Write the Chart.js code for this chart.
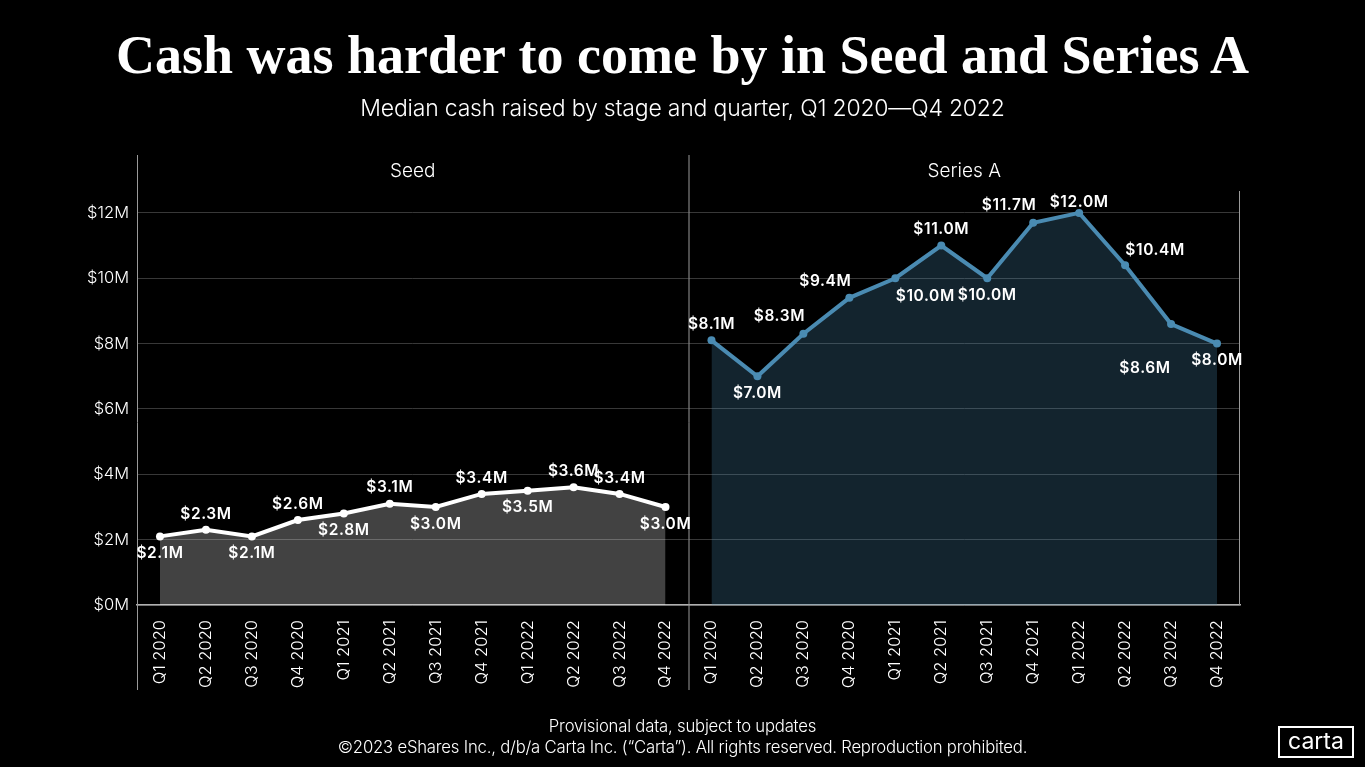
<!DOCTYPE html>
<html>
<head>
<meta charset="utf-8">
<script src="https://cdn.jsdelivr.net/npm/chart.js"></script>
<style>
  html, body { margin: 0; padding: 0; background: #000; }
  body { width: 1365px; height: 767px; position: relative; overflow: hidden; font-family: "Inter", "Lato", sans-serif; color: #fff; }
  #wrap { position: absolute; left: 0; top: 0; width: 1365px; height: 767px; }
  .title { position: absolute; top: 24px; left: 0; width: 1365px; text-align: center; font-family: "Liberation Serif", "DejaVu Serif", serif; font-weight: bold; font-size: 54px; }
  .sub { position: absolute; top: 94px; left: 0; width: 1365px; text-align: center; font-size: 23px; font-weight: 300; letter-spacing: -0.2px; }
  .foot { position: absolute; left: 0; width: 1365px; text-align: center; font-size: 16.7px; font-weight: 300; letter-spacing: -0.2px; }
  .logo { position: absolute; left: 1278px; top: 726px; width: 72px; height: 28px; border: 2px solid #fff; text-align: center; font-size: 23px; line-height: 26px; }
</style>
</head>
<body>
<div id="wrap"><canvas id="chart" width="1365" height="767"></canvas></div>
<div class="title">Cash was harder to come by in Seed and Series A</div>
<div class="sub">Median cash raised by stage and quarter, Q1 2020—Q4 2022</div>
<div class="foot" style="top:716px">Provisional data, subject to updates</div>
<div class="foot" style="top:737px">©2023 eShares Inc., d/b/a Carta Inc. (“Carta”). All rights reserved. Reproduction prohibited.</div>
<div class="logo">carta</div>
<script>
var quarters = ["Q1 2020", "Q2 2020", "Q3 2020", "Q4 2020", "Q1 2021", "Q2 2021", "Q3 2021", "Q4 2021", "Q1 2022", "Q2 2022", "Q3 2022", "Q4 2022"];
var panels = ["Seed", "Series A"];
var seed = [2.1, 2.3, 2.1, 2.6, 2.8, 3.1, 3.0, 3.4, 3.5, 3.6, 3.4, 3.0];
var seriesA = [8.1, 7.0, 8.3, 9.4, 10.0, 11.0, 10.0, 11.7, 12.0, 10.4, 8.6, 8.0];

// where each value label sits relative to its point
var seedPos = ["b", "a", "b", "a", "b", "a", "b", "a", "b", "a", "a", "b"];
var seriesAPos = ["a", "b", "al", "al", "br", "a", "b", "al", "at", "ar", "bl", "b"];
var offsets = {
    a: [0, -16], b: [0, 17], al: [-24, -17], ar: [30, -15],
    br: [30, 18], bl: [-26, 44], at: [0, -11]
};

var blank = quarters.map(() => null);
var labels = quarters.concat(quarters);

var panelLines = {
    id: "panelLines",
    beforeDatasetsDraw(chart) {
        var ctx = chart.ctx, a = chart.chartArea, x = chart.scales.x;
        var mid = (x.getPixelForValue(11) + x.getPixelForValue(12)) / 2;
        ctx.save();
        ctx.strokeStyle = "#9a9a9a";
        ctx.lineWidth = 1;
        ctx.beginPath();
        ctx.moveTo(a.left + 0.5, 155); ctx.lineTo(a.left + 0.5, 690);
        ctx.moveTo(mid + 0.5, 155); ctx.lineTo(mid + 0.5, 690);
        ctx.moveTo(a.right - 0.5, a.top); ctx.lineTo(a.right - 0.5, a.bottom);
        ctx.stroke();
        ctx.fillStyle = "#fff";
        ctx.font = "300 19px Inter, Lato, sans-serif";
        ctx.textAlign = "center";
        ctx.textBaseline = "middle";
        ctx.fillText(panels[0], (a.left + mid) / 2, 171);
        ctx.fillText(panels[1], (mid + a.right) / 2, 171);
        ctx.restore();
    }
};

var valueLabels = {
    id: "valueLabels",
    afterDatasetsDraw(chart) {
        var ctx = chart.ctx;
        var posList = [seedPos, seriesAPos];
        ctx.save();
        ctx.fillStyle = "#fff";
        ctx.font = "600 15.5px Inter, Lato, sans-serif";
        ctx.letterSpacing = "0.6px";
        ctx.textAlign = "center";
        ctx.textBaseline = "middle";
        chart.data.datasets.forEach(function (ds, d) {
            var meta = chart.getDatasetMeta(d);
            ds.data.forEach(function (v, i) {
                if (v === null) return;
                var p = meta.data[i];
                var o = offsets[posList[d][i - d * 12]];
                ctx.fillText("$" + v.toFixed(1) + "M", p.x + o[0], p.y + o[1]);
            });
        });
        ctx.restore();
    }
};

var ct = document.getElementById("chart");

var grafico = new Chart(ct, {
    type: "line",
    data: {
        labels: labels,
        datasets: [{
            label: panels[0],
            data: seed.concat(blank),
            borderColor: "#ffffff",
            backgroundColor: "rgba(255,255,255,0.26)",
            borderWidth: 4,
            pointRadius: 4,
            pointBackgroundColor: "#ffffff",
            pointBorderWidth: 0,
            fill: "origin"
        },
        {
            label: panels[1],
            data: blank.concat(seriesA),
            borderColor: "#4a8bb2",
            backgroundColor: "rgba(74,139,178,0.26)",
            borderWidth: 4,
            pointRadius: 4,
            pointBackgroundColor: "#4a8bb2",
            pointBorderWidth: 0,
            fill: "origin"
        }]
    },
    options: {
        responsive: false,
        animation: false,
        layout: { padding: { top: 191, right: 125, left: 0, bottom: 0 } },
        plugins: { legend: { display: false }, tooltip: { enabled: false } },
        scales: {
            x: {
                offset: true,
                afterFit(s) { s.height = 162; },
                grid: { display: false, offset: true },
                border: { color: "#b0b0b0", width: 1.5 },
                ticks: {
                    color: "#ffffff",
                    font: { family: "Inter, Lato, sans-serif", size: 16.5, weight: 300 },
                    maxRotation: 90, minRotation: 90, autoSkip: false, padding: 7
                }
            },
            y: {
                min: 0, max: 12.67,
                afterFit(s) { s.width = 137; },
                border: { display: false },
                grid: { color: "#383838", lineWidth: 1, drawTicks: false },
                ticks: {
                    stepSize: 2, includeBounds: false, padding: 8,
                    color: "#ffffff",
                    font: { family: "Inter, Lato, sans-serif", size: 16.5, weight: 300 },
                    callback: function (v) { return "$" + v + "M"; }
                }
            }
        }
    },
    plugins: [panelLines, valueLabels]
});
</script>
</body>
</html>
